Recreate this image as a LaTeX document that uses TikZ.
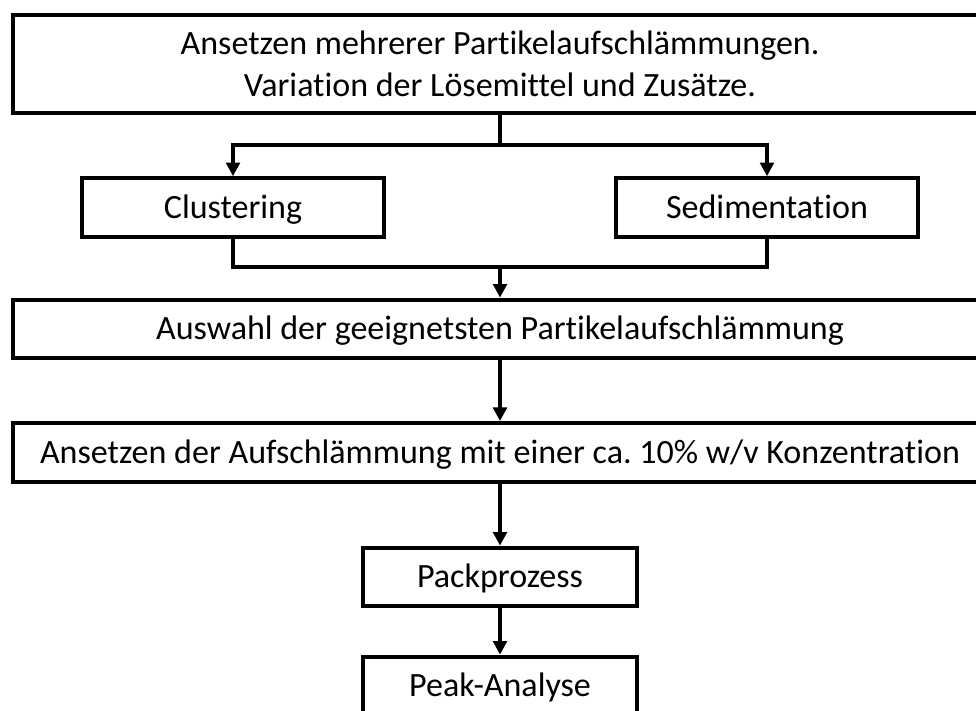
\documentclass[tikz,border=0pt]{standalone}
\usepackage{fontspec}
\setmainfont{Carlito}[Ligatures={NoCommon}]
\usetikzlibrary{arrows.meta}
\frenchspacing

\begin{document}
\begin{tikzpicture}[
  box/.style={draw, rectangle, line width=2.8pt, inner sep=0pt,
    minimum height=1.47cm, font=\fontsize{24.2}{30}\selectfont},
  line/.style={box, text height=0.54cm, text depth=0pt},
  wide/.style={line, minimum width=24.35cm},
  small/.style={line, minimum width=6.87cm},
  link/.style={line width=2.8pt},
  arr/.style={link, -{Triangle[length=0.34cm,width=0.34cm]}}
]
\clip (0,0) rectangle (24.4,-17.75);
\useasboundingbox (0,0) rectangle (24.4,-17.75);

\node[box, align=center, minimum width=24.35cm, minimum height=2.45cm] (start) at (12.5,-1.6)
{Ansetzen mehrerer Partikelaufschlämmungen.\\Variation der Lösemittel und Zusätze.};

\node[line, minimum width=7.55cm] (clust) at (5.825,-5.19) {Clustering};
\node[line, minimum width=7.55cm] (sedi) at (19.175,-5.19) {Sedimentation};

\node[wide] (select) at (12.5,-8.225) {Auswahl der geeignetsten Partikelaufschlämmung};
\node[wide] (slurry) at (12.5,-11.31) {Ansetzen der Aufschlämmung mit einer ca. 10\% w/v Konzentration};

\node[small] (pack) at (12.5,-14.425) {Packprozess};
\node[small] (peak) at (12.5,-17.15) {Peak-Analyse};

\coordinate (split) at (12.5,-3.625);
\coordinate (join) at (12.5,-6.675);

\draw[link] (start.south) -- (split);
\draw[arr] (split) -| (clust.north);
\draw[arr] (split) -| (sedi.north);
\draw[link] (clust.south) |- (join) -| (sedi.south);
\draw[arr] (join) -- (select.north);
\draw[arr] (select) -- (slurry);
\draw[arr] (slurry) -- (pack);
\draw[arr] (pack) -- (peak);
\end{tikzpicture}
\end{document}
